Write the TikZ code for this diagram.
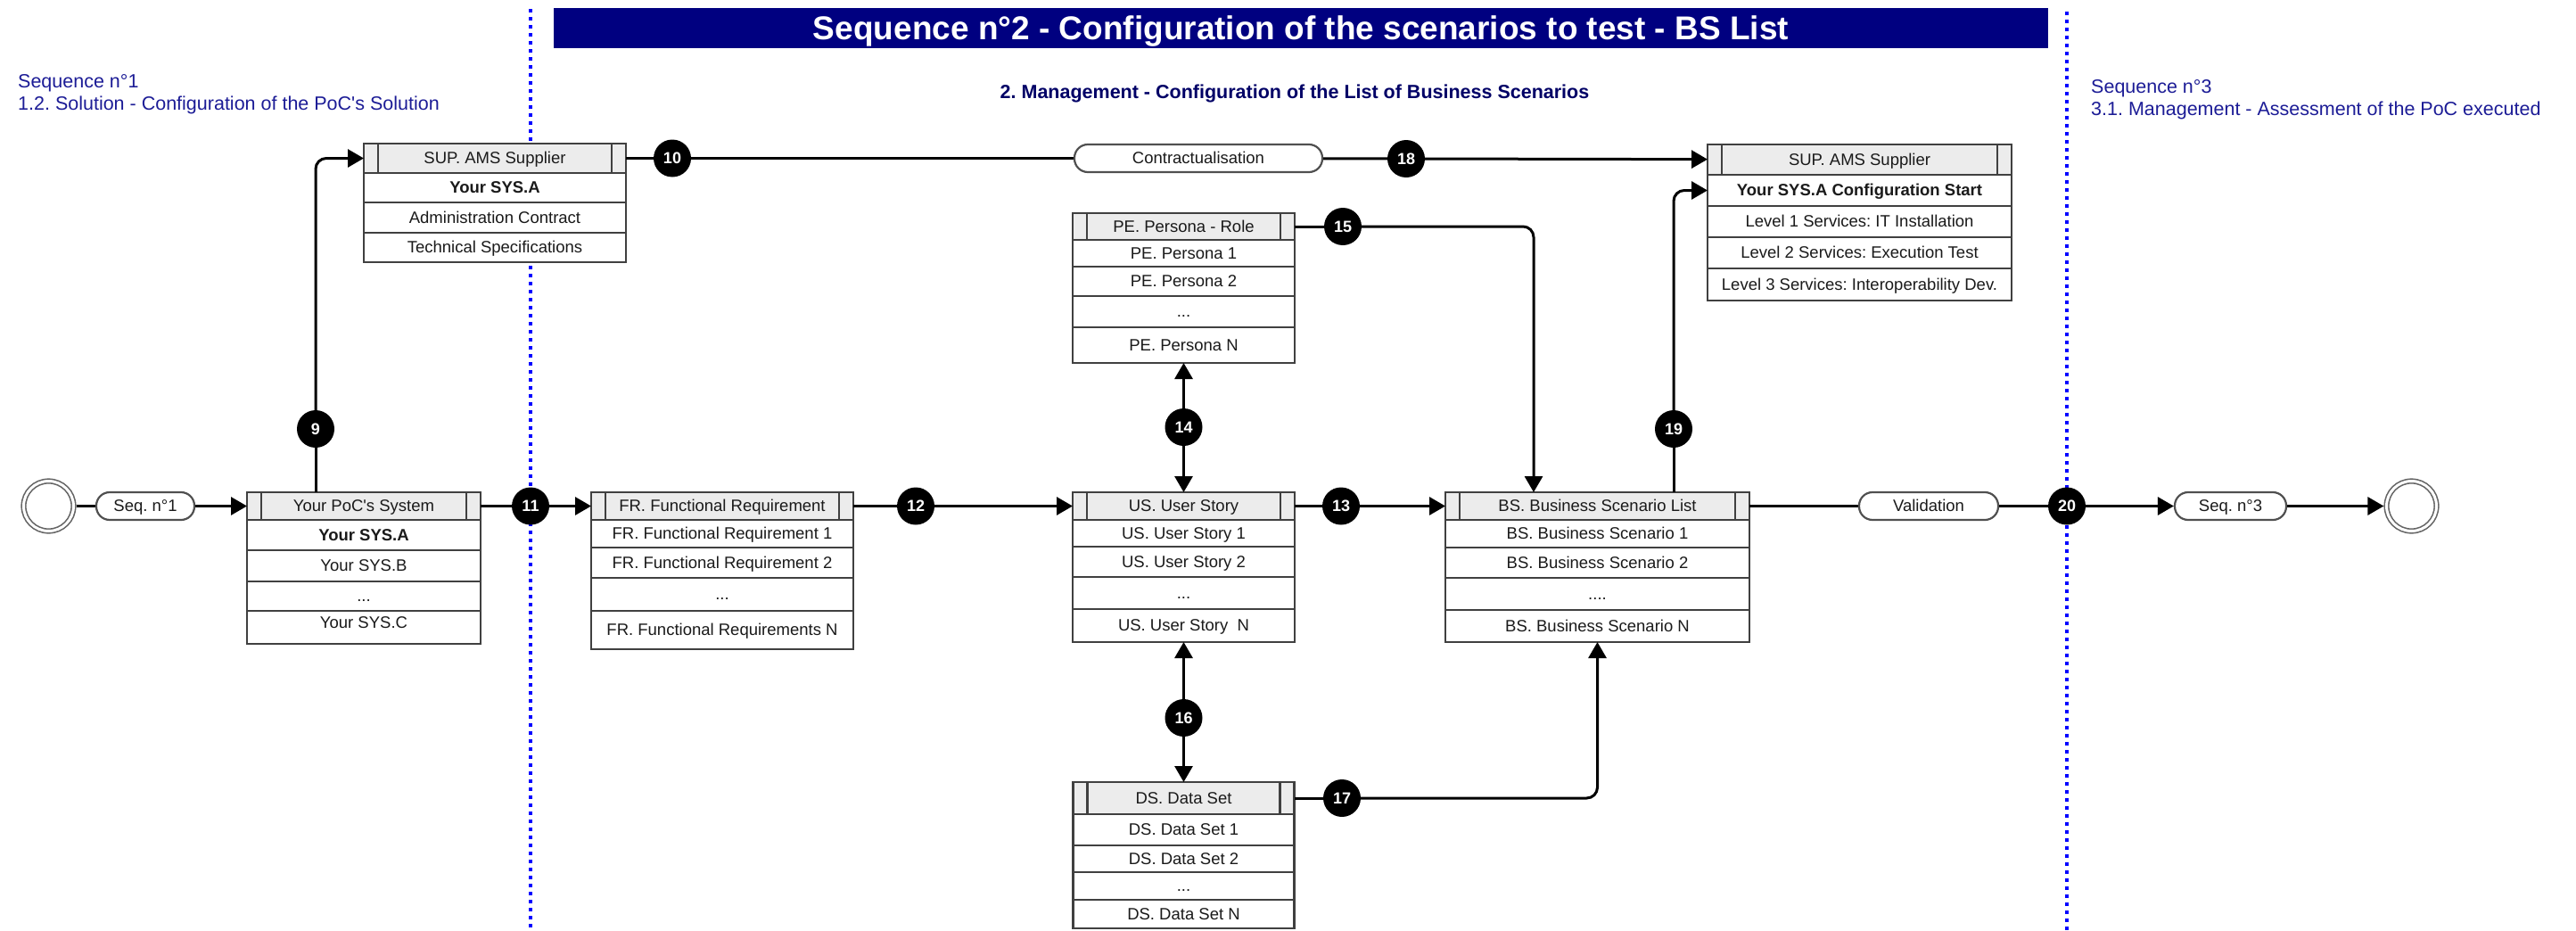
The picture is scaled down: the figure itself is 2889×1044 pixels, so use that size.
\documentclass[tikz,border=0pt]{standalone}
\usepackage{fontspec}
\setmainfont{Liberation Sans}
\usetikzlibrary{arrows.meta}
\frenchspacing

\definecolor{navybar}{RGB}{0,0,128}
\definecolor{laneblue}{RGB}{0,0,255}
\definecolor{seqblue}{RGB}{28,28,150}
\definecolor{subnavy}{RGB}{0,0,102}
\definecolor{boxline}{RGB}{64,64,64}
\definecolor{headfill}{RGB}{236,236,236}
\definecolor{rowtext}{RGB}{26,26,26}
\definecolor{pillline}{RGB}{80,80,80}
\definecolor{termline}{RGB}{100,100,100}

\newcommand\dgRow{\fontsize{18.5pt}{22pt}\selectfont}
\newcommand\dgLabel{\fontsize{21.5pt}{25pt}\selectfont}
\newcommand\dgTitle{\fontsize{37pt}{44pt}\selectfont\bfseries}
\newcommand\dgNum{\fontsize{18pt}{20pt}\selectfont\bfseries}

\tikzset{
  boxrow/.style={draw=boxline, fill=white, line width=2.4pt, inner sep=0pt, outer sep=0pt,
    text height=12.7pt, text depth=0pt, text=rowtext, font=\dgRow},
  boldrow/.style={boxrow, font=\dgRow\bfseries},
  raisedrow/.style={boxrow, text depth=10.4pt},
  boxhead/.style={boxrow, fill=headfill,
    path picture={
      \draw[draw=boxline, line width=2.4pt]
        ([xshift=16pt]path picture bounding box.north west) -- ([xshift=16pt]path picture bounding box.south west)
        ([xshift=-16pt]path picture bounding box.north east) -- ([xshift=-16pt]path picture bounding box.south east);
    }},
  num/.style={circle, fill=black, inner sep=0pt, minimum size=42pt, text=white, font=\dgNum,
    text height=12.8pt, text depth=0pt},
  pill/.style={draw=pillline, fill=white, line width=2.2pt, rounded corners=15pt, minimum height=31pt,
    inner sep=0pt, text height=12.7pt, text depth=0pt, font=\dgRow, text=rowtext},
  terminal/.style={circle, draw=termline, line width=1.6pt, double=white, double distance=3pt,
    fill=white, minimum size=56pt, inner sep=0pt, outer sep=3.1pt},
  flow/.style={draw=black, line width=3pt},
  arr/.style={flow, -{Triangle[length=18pt,width=20pt]}},
  lane/.style={draw=laneblue, line width=3.5pt, dash pattern=on 4pt off 5pt},
  lanelabel/.style={font=\dgLabel, text=seqblue, inner sep=0pt},
  subtitle/.style={font=\dgLabel\bfseries, text=subnavy, inner sep=0pt},
  titlebar/.style={fill=navybar, text=white, font=\dgTitle, minimum width=1676pt, minimum height=45pt,
    inner sep=0pt, text height=26.5pt, text depth=0pt},
}

\begin{document}
\begin{tikzpicture}[x=1pt,y=-1pt]
\useasboundingbox (0,0) rectangle (2889,1044);

% swimlane separators
\coordinate (laneLtop) at (595,10);
\coordinate (laneLbot) at (595,1044);
\coordinate (laneRtop) at (2318,13);
\coordinate (laneRbot) at (2318,1044);
\draw[lane] (laneLtop) -- (laneLbot);
\draw[lane] (laneRtop) -- (laneRbot);

% headings
\node[titlebar] (title) at (1459,31.5) {Sequence n°2 - Configuration of the scenarios to test - BS List};
\node[lanelabel, anchor=base west] (seqOneA) at (20,98.4) {Sequence n°1};
\node[lanelabel, anchor=base west] (seqOneB) at (20,123.4) {1.2. Solution - Configuration of the PoC\textquotesingle s Solution};
\node[lanelabel, anchor=base west] (seqThreeA) at (2345,104.4) {Sequence n°3};
\node[lanelabel, anchor=base west] (seqThreeB) at (2345,129.4) {3.1. Management - Assessment of the PoC executed};
\node[subtitle, anchor=base] (sub) at (1452,110.4) {2. Management - Configuration of the List of Business Scenarios};

% supplier (left)
\node[boxhead, minimum width=294pt, minimum height=33pt] (supAH) at (555,177.5) {SUP. AMS Supplier};
\node[boldrow, minimum width=294pt, minimum height=33pt] (supA1) at (555,210.5) {Your SYS.A};
\node[boxrow, minimum width=294pt, minimum height=34pt] (supA2) at (555,244) {Administration Contract};
\node[boxrow, minimum width=294pt, minimum height=33pt] (supA3) at (555,277.5) {Technical Specifications};

% supplier (right)
\node[boxhead, minimum width=341pt, minimum height=34pt] (supBH) at (2085.5,179) {SUP. AMS Supplier};
\node[boldrow, minimum width=341pt, minimum height=35pt] (supB1) at (2085.5,213.5) {Your SYS.A Configuration Start};
\node[boxrow, minimum width=341pt, minimum height=35pt] (supB2) at (2085.5,248.5) {Level 1 Services: IT Installation};
\node[boxrow, minimum width=341pt, minimum height=35pt] (supB3) at (2085.5,283.5) {Level 2 Services: Execution Test};
\node[boxrow, minimum width=341pt, minimum height=36pt] (supB4) at (2085.5,319) {Level 3 Services: Interoperability Dev.};

% PoC system
\node[boxhead, minimum width=262pt, minimum height=31pt] (pocH) at (408,567.5) {Your PoC\textquotesingle s System};
\node[boldrow, minimum width=262pt, minimum height=34pt] (poc1) at (408,600) {Your SYS.A};
\node[boxrow, minimum width=262pt, minimum height=35pt] (poc2) at (408,634.5) {Your SYS.B};
\node[boxrow, minimum width=262pt, minimum height=33pt] (poc3) at (408,668.5) {...};
\node[raisedrow, minimum width=262pt, minimum height=37pt] (poc4) at (408,703.5) {Your SYS.C};

% functional requirements
\node[boxhead, minimum width=294pt, minimum height=31pt] (frH) at (810,567.5) {FR. Functional Requirement};
\node[boxrow, minimum width=294pt, minimum height=31pt] (fr1) at (810,598.5) {FR. Functional Requirement 1};
\node[boxrow, minimum width=294pt, minimum height=34pt] (fr2) at (810,631) {FR. Functional Requirement 2};
\node[boxrow, minimum width=294pt, minimum height=37pt] (fr3) at (810,666.5) {...};
\node[boxrow, minimum width=294pt, minimum height=43pt] (fr4) at (810,706.5) {FR. Functional Requirements N};

% personas
\node[boxhead, minimum width=249pt, minimum height=30pt] (peH) at (1327.5,254) {PE. Persona - Role};
\node[boxrow, minimum width=249pt, minimum height=30pt] (pe1) at (1327.5,284) {PE. Persona 1};
\node[boxrow, minimum width=249pt, minimum height=33pt] (pe2) at (1327.5,315.5) {PE. Persona 2};
\node[boxrow, minimum width=249pt, minimum height=35pt] (pe3) at (1327.5,349.5) {...};
\node[boxrow, minimum width=249pt, minimum height=40pt] (pe4) at (1327.5,387) {PE. Persona N};

% user stories
\node[boxhead, minimum width=249pt, minimum height=31pt] (usH) at (1327.5,567.5) {US. User Story};
\node[boxrow, minimum width=249pt, minimum height=30pt] (us1) at (1327.5,598) {US. User Story 1};
\node[boxrow, minimum width=249pt, minimum height=34pt] (us2) at (1327.5,630) {US. User Story 2};
\node[boxrow, minimum width=249pt, minimum height=36pt] (us3) at (1327.5,665) {...};
\node[boxrow, minimum width=249pt, minimum height=37pt] (us4) at (1327.5,701.5) {US. User Story\ \ N};

% data sets
\node[boxhead, minimum width=248pt, minimum height=36pt] (dsH) at (1327.5,895) {DS. Data Set};
\node[boxrow, minimum width=248pt, minimum height=35pt] (ds1) at (1327.5,930.5) {DS. Data Set 1};
\node[boxrow, minimum width=248pt, minimum height=30pt] (ds2) at (1327.5,963) {DS. Data Set 2};
\node[boxrow, minimum width=248pt, minimum height=31pt] (ds3) at (1327.5,993.5) {...};
\node[boxrow, minimum width=248pt, minimum height=32pt] (ds4) at (1327.5,1025) {DS. Data Set N};

% business scenarios
\node[boxhead, minimum width=341pt, minimum height=31pt] (bsH) at (1791.5,567.5) {BS. Business Scenario List};
\node[boxrow, minimum width=341pt, minimum height=31pt] (bs1) at (1791.5,598.5) {BS. Business Scenario 1};
\node[boxrow, minimum width=341pt, minimum height=34pt] (bs2) at (1791.5,631) {BS. Business Scenario 2};
\node[boxrow, minimum width=341pt, minimum height=36pt] (bs3) at (1791.5,666) {....};
\node[boxrow, minimum width=341pt, minimum height=36pt] (bs4) at (1791.5,702) {BS. Business Scenario N};

% start, end and pills
\node[terminal] (startC) at (54.5,567.5) {};
\node[terminal] (endC) at (2704.5,567.5) {};
\node[pill, minimum width=110pt] (seqOne) at (163,567.5) {Seq. n°1};
\node[pill, minimum width=278pt] (contract) at (1344,177.5) {Contractualisation};
\node[pill, minimum width=156pt] (valid) at (2163,567.5) {Validation};
\node[pill, minimum width=125pt] (seqThree) at (2501.5,567.5) {Seq. n°3};

% step numbers
\node[num] (c9) at (354,481) {9};
\node[num] (c10) at (754,177.5) {10};
\node[num] (c11) at (595,567.5) {11};
\node[num] (c12) at (1027,567.5) {12};
\node[num] (c13) at (1504,567.5) {13};
\node[num] (c14) at (1327.5,479) {14};
\node[num] (c15) at (1506,254) {15};
\node[num] (c16) at (1327.5,805) {16};
\node[num] (c17) at (1505,895) {17};
\node[num] (c18) at (1577,178) {18};
\node[num] (c19) at (1877,481) {19};
\node[num] (c20) at (2318,567.5) {20};

% main flow
\draw[flow] (startC) -- (seqOne);
\draw[arr] (seqOne) -- (pocH);
\draw[flow] (pocH) -- (c11);
\draw[arr] (c11) -- (frH);
\draw[flow] (frH) -- (c12);
\draw[arr] (c12) -- (usH);
\draw[flow] (usH) -- (c13);
\draw[arr] (c13) -- (bsH);
\draw[flow] (bsH) -- (valid);
\draw[flow] (valid) -- (c20);
\draw[arr] (c20) -- (seqThree);
\draw[arr] (seqThree) -- (endC);

% supplier branch
\draw[flow] ([xshift=-54pt]pocH.north) -- (c9);
\draw[arr, rounded corners=12pt] (c9) |- (supAH.west);
\draw[flow] (supAH) -- (c10);
\draw[flow] (c10) -- (contract);
\draw[flow] (contract) -- (c18);
\draw[arr] (c18) -- (supBH);

% personas and data sets
\draw[arr] (c14) -- (pe4);
\draw[arr] (c14) -- (usH);
\draw[flow] (peH) -- (c15);
\draw[arr, rounded corners=12pt] (c15) -| ([xshift=-71.5pt]bsH.north);
\draw[arr] (c16) -- (us4);
\draw[arr] (c16) -- (dsH);
\draw[flow] (dsH) -- (c17);
\draw[arr, rounded corners=12pt] (c17) -| (bs4.south);

% configuration start
\draw[flow] ([xshift=85.5pt]bsH.north) -- (c19);
\draw[arr, rounded corners=12pt] (c19) |- (supB1.west);
\end{tikzpicture}
\end{document}
